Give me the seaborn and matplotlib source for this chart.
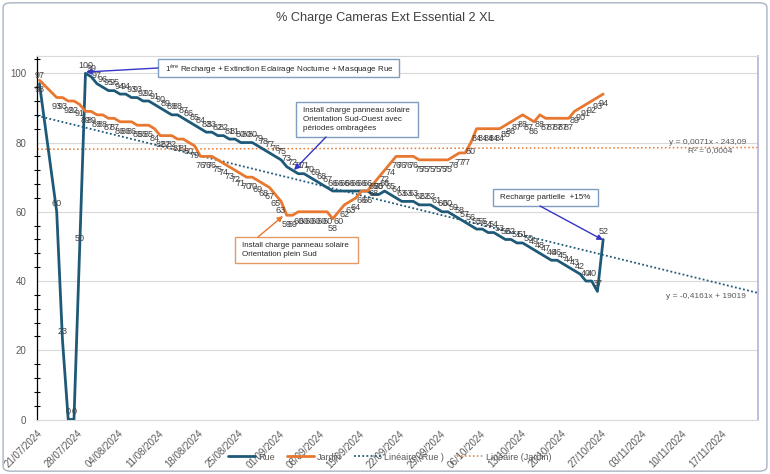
import numpy as np
import pandas as pd
import matplotlib
matplotlib.use("Agg")
import matplotlib.pyplot as plt
from matplotlib.lines import Line2D
from matplotlib.patches import Rectangle, FancyBboxPatch
from matplotlib.ticker import MultipleLocator
import seaborn as sns

# ---------------- data ----------------
start_date = "2024-07-21 09:00"
rue = [97, None, None, 60, 23, 0, 0, 50, 100, 99,
       97, 96, 95, 95, 94, 94, 93, 93, 92, 92,
       91, 90, 89, 88, 88, 87, 86, 85, 84, 83,
       83, 82, 82, 81, 81, 80, 80, 80, 79, 78,
       77, 76, 75, 73, 72, 71, 71, 70, 69, 68,
       67, 66, 66, 66, 66, 66, 66, 66, 65, 65,
       66, 65, 64, 63, 63, 63, 62, 62, 62, 61,
       60, 60, 59, 58, 57, 56, 55, 55, 54, 54,
       53, 52, 52, 51, 51, 50, 49, 48, 47, 46,
       46, 45, 44, 43, 42, 40, 40, 37, 52]
jardin = [98, None, None, 93, 93, 92, 92, 91, 89, 89,
          88, 88, 87, 87, 86, 86, 86, 85, 85, 85,
          84, 82, 82, 82, 81, 81, 80, 79, 76, 76,
          76, 75, 74, 73, 72, 71, 70, 70, 69, 68,
          67, 65, 63, 59, 59, 60, 60, 60, 60, 60,
          60, 58, 60, 62, 63, 64, 66, 66, 68, 70,
          72, 74, 76, 76, 76, 76, 75, 75, 75, 75,
          75, 75, 76, 77, 77, 80, 84, 84, 84, 84,
          84, 85, 86, 87, 88, 87, 86, 88, 87, 87,
          87, 87, 87, 89, 90, 91, 92, 93, 94]
series_names = ["Rue", "Jardin"]
trend_names = ["Linéaire (Rue )", "Linéaire (Jardin)"]
trend_eq_rue = "y = -0,4161x + 19019"
trend_eq_jardin = ["y = 0,0071x - 243,09", "R² = 0,0004"]
title = "% Charge Cameras Ext Essential 2 XL"
x_min, x_max = "2024-07-21 00:00", "2024-11-23 07:00"
tick_dates = pd.date_range("2024-07-21", "2024-11-17", freq="7D")
y_ticks = [0, 20, 40, 60, 80, 100]
note1_sup = ("1", "ère", " Recharge + Extinction Eclairage Nocturne + Masquage Rue")
note2 = "Install charge panneau solaire\nOrientation Sud-Ouest avec\npériodes ombragées"
note3 = "Install charge panneau solaire\nOrientation plein Sud"
note4 = "Recharge partielle  +15%"

# ---------------- style ----------------
sns.set_style("white")
plt.rcParams["font.family"] = ["Liberation Sans", "DejaVu Sans"]
C_RUE = "#1E5A78"
C_JAR = "#E8782F"
C_TXT = "#404040"
C_TICK = "#595959"

dates = pd.date_range(start_date, periods=len(rue), freq="D")
df = pd.DataFrame({"date": list(dates) * 2,
                   "val": rue + jardin,
                   "serie": ["Rue"] * len(rue) + ["Jardin"] * len(jardin)})
df["val"] = pd.to_numeric(df["val"])
df = df.dropna()

W, H = 770, 474
fig = plt.figure(figsize=(W / 100, H / 100), dpi=100)
L, R, T, B = 37.3, 758.0, 56.0, 419.5
ax = fig.add_axes([L / W, 1 - B / H, (R - L) / W, (B - T) / H])

def afr(x, y):
    return ((x - L) / (R - L), (B - y) / (B - T))

# outer border
fig.patches.append(FancyBboxPatch((0.004, 0.006), 0.992, 0.988,
                                  boxstyle="round,pad=0,rounding_size=0.01",
                                  transform=fig.transFigure, fill=False,
                                  edgecolor="#A9B4C2", lw=1.0))

EPOCH = pd.Timestamp("1899-12-30")
xr = pd.DatetimeIndex([pd.Timestamp(x_min), pd.Timestamp(x_max)])
for name, col, ls, lw in [("Rue", C_RUE, (0, (1, 1.3)), 1.3),
                          ("Jardin", C_JAR, (0, (1, 1.6)), 1.1)]:
    sub = df[df.serie == name]
    ser = ((sub.date - EPOCH) / pd.Timedelta(days=1)).values.astype(float)
    k, b0 = np.polyfit(ser, sub.val.values.astype(float), 1)
    sr = np.asarray((xr - EPOCH) / pd.Timedelta(days=1), dtype=float)
    ax.plot(xr, k * sr + b0, color=col, ls=ls, lw=lw, zorder=2)

sns.lineplot(data=df, x="date", y="val", hue="serie",
             palette={"Rue": C_RUE, "Jardin": C_JAR}, lw=2.0,
             legend=False, ax=ax, zorder=3, sort=False)

# data labels
for d, v in zip(dates, rue):
    if v is not None:
        ax.annotate(str(v), (d, v), xytext=(0, 2.5), textcoords="offset points",
                    ha="center", va="bottom", fontsize=6.5, color=C_TXT, zorder=4)
for d, v in zip(dates, jardin):
    if v is not None:
        ax.annotate(str(v), (d, v), xytext=(0, -3.5), textcoords="offset points",
                    ha="center", va="top", fontsize=6.5, color=C_TXT, zorder=4)

# axes
ax.set_xlim(pd.Timestamp(x_min), pd.Timestamp(x_max))
ax.set_ylim(0, 105)
ax.set_yticks(y_ticks)
ax.yaxis.set_minor_locator(MultipleLocator(4))
ax.set_xticks(tick_dates)
ax.set_xticklabels([d.strftime("%d/%m/%Y") for d in tick_dates],
                   rotation=45, ha="right", rotation_mode="anchor")
ax.tick_params(axis="x", direction="inout", length=5, width=0.8, color="black",
               labelsize=7, labelcolor=C_TICK, pad=4)
ax.tick_params(axis="y", which="major", direction="inout", length=6, width=0.8,
               color="black", labelsize=7, labelcolor=C_TICK, pad=5)
ax.tick_params(axis="y", which="minor", direction="inout", length=5, width=0.8,
               color="black", left=True)
ax.set_xlabel("")
ax.set_ylabel("")
ax.grid(axis="y", which="major", color="#D9D9D9", lw=0.8)
ax.set_axisbelow(True)
ax.spines["left"].set_color("black")
ax.spines["left"].set_linewidth(0.9)
ax.spines["bottom"].set_color("#D9D9D9")
ax.spines["top"].set_color("#D9D9D9")
ax.spines["right"].set_color("#B2B2DE")
ax.spines["right"].set_linewidth(1.2)

# title
fig.text(385 / W, 1 - 18 / H, title, ha="center", va="center", fontsize=9.2,
         color=C_TXT)

# trend equations
ax.text(*afr(708, 142), trend_eq_jardin[0], transform=ax.transAxes, ha="center",
        va="center", fontsize=6, color=C_TICK)
ax.text(*afr(710, 152), trend_eq_jardin[1], transform=ax.transAxes, ha="center",
        va="center", fontsize=6, color=C_TICK)
ax.text(*afr(706, 296), trend_eq_rue, transform=ax.transAxes, ha="center",
        va="center", fontsize=6, color=C_TICK)

# annotation boxes
def box(x0, y0, x1, y1, ec):
    ax.add_patch(Rectangle(afr(x0, y1), (x1 - x0) / (R - L), (y1 - y0) / (B - T),
                           transform=ax.transAxes, facecolor="white", edgecolor=ec,
                           lw=1.0, clip_on=False, zorder=6))

def arrow(x0, y0, x1, y1, col):
    ax.annotate("", xy=afr(x1, y1), xytext=afr(x0, y0), xycoords="axes fraction",
                textcoords="axes fraction",
                arrowprops=dict(arrowstyle="-|>", color=col, lw=1.0,
                                mutation_scale=8, shrinkA=0, shrinkB=0), zorder=7)

C_BOX = "#7F9DBF"
C_ARW = "#3535C8"
FS_NOTE = 5.8
box(158, 59, 399, 77, C_BOX)
ax.text(*afr(165, 68.5),
        note1_sup[0] + r"$^{\mathregular{" + note1_sup[1] + r"}}$" + note1_sup[2],
        transform=ax.transAxes, ha="left", va="center", fontsize=FS_NOTE,
        color="#262626", zorder=8)
arrow(158, 68, 86, 72, C_ARW)

box(296, 102, 418, 137, C_BOX)
ax.text(*afr(303, 119.5), note2, transform=ax.transAxes, ha="left", va="center",
        fontsize=FS_NOTE, color="#262626", linespacing=1.45, zorder=8)
arrow(326, 137, 294, 170, C_ARW)

box(235, 237, 358, 263, "#E59A66")
ax.text(*afr(242, 250), note3, transform=ax.transAxes, ha="left", va="center",
        fontsize=FS_NOTE, color="#262626", linespacing=1.45, zorder=8)
arrow(258, 237, 283, 216, C_JAR)

box(493, 189, 598, 206, C_BOX)
ax.text(*afr(545.5, 197.5), note4, transform=ax.transAxes, ha="center",
        va="center", fontsize=FS_NOTE, color="#262626", zorder=8)
arrow(540, 206, 603, 240, C_ARW)

# legend
handles = [Line2D([], [], color=C_RUE, lw=2.0),
           Line2D([], [], color=C_JAR, lw=2.0),
           Line2D([], [], color=C_RUE, lw=1.3, ls=(0, (1, 1.3))),
           Line2D([], [], color=C_JAR, lw=1.1, ls=(0, (1, 1.6)))]
fig.legend(handles, series_names + trend_names, loc="center",
           bbox_to_anchor=(390 / W, 1 - 457 / H), ncol=4, frameon=False,
           fontsize=6.5, labelcolor=C_TICK, handlelength=3.0, columnspacing=1.4,
           handletextpad=0.3)

fig.savefig("out.png", dpi=100)
